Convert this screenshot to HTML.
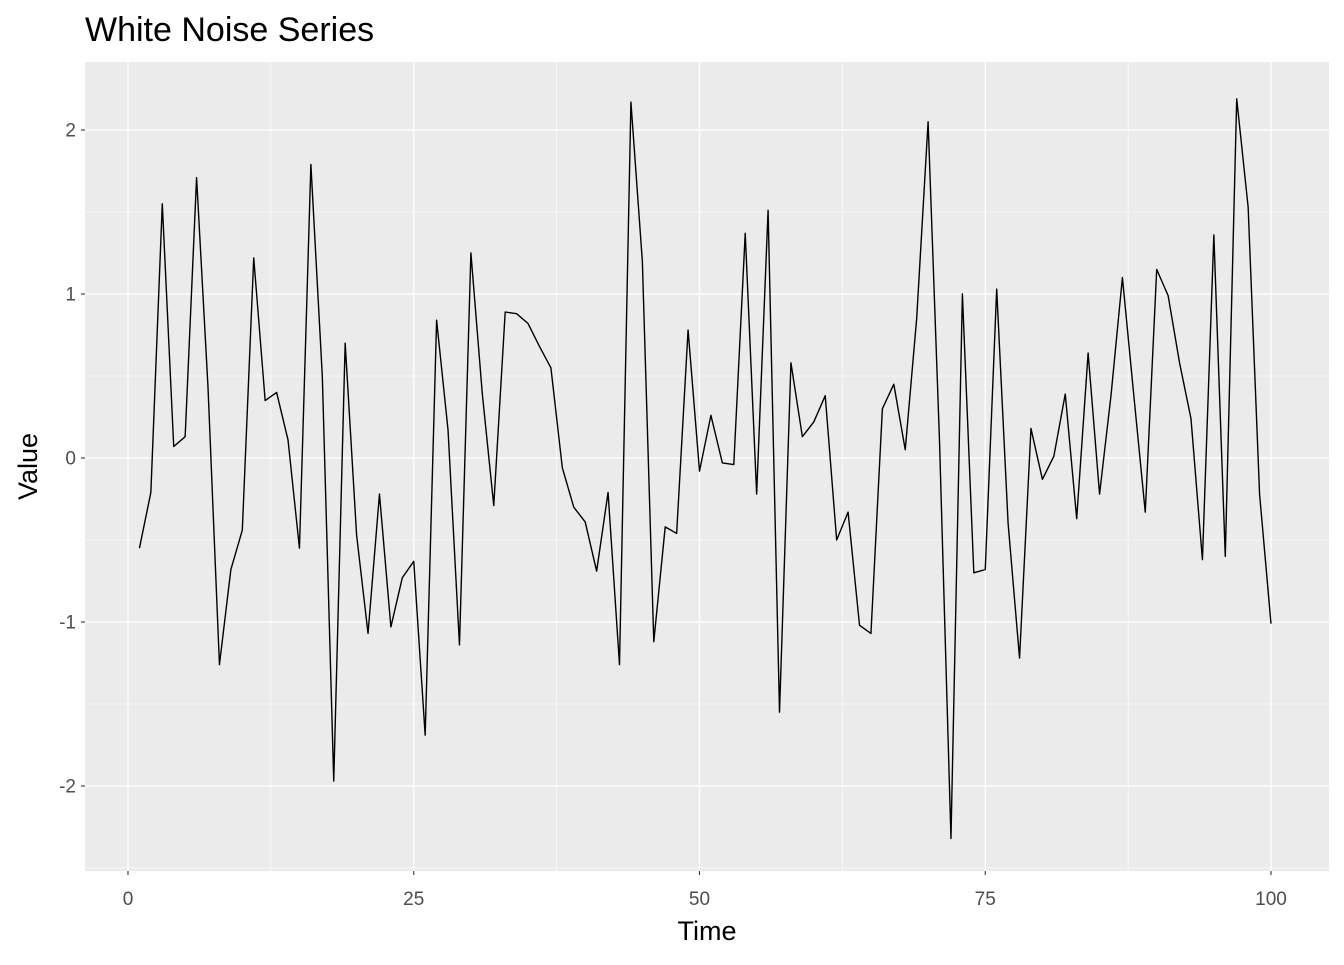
<!DOCTYPE html>
<html><head><meta charset="utf-8"><style>
body{margin:0;background:#fff;font-family:"Liberation Sans",sans-serif}
</style></head><body>
<svg id="chart" width="1344" height="960" xmlns="http://www.w3.org/2000/svg" font-family="Liberation Sans, sans-serif"></svg>
<script>
const xTicks=[0,25,50,75,100];
const yTicks=[-2,-1,0,1,2];
const values=[-0.55,-0.21,1.55,0.07,0.13,1.71,0.43,-1.26,-0.68,-0.44,1.22,0.35,0.40,0.11,-0.55,1.79,0.50,-1.97,0.70,-0.47,-1.07,-0.22,-1.03,-0.73,-0.63,-1.69,0.84,0.17,-1.14,1.25,0.39,-0.29,0.89,0.88,0.82,0.68,0.55,-0.06,-0.30,-0.39,-0.69,-0.21,-1.26,2.17,1.20,-1.12,-0.42,-0.46,0.78,-0.08,0.26,-0.03,-0.04,1.37,-0.22,1.51,-1.55,0.58,0.13,0.22,0.38,-0.50,-0.33,-1.02,-1.07,0.30,0.45,0.05,0.85,2.05,0.10,-2.32,1.00,-0.70,-0.68,1.03,-0.40,-1.22,0.18,-0.13,0.01,0.39,-0.37,0.64,-0.22,0.38,1.10,0.38,-0.33,1.15,0.99,0.58,0.24,-0.62,1.36,-0.60,2.19,1.53,-0.22,-1.01];
const NS="http://www.w3.org/2000/svg";
const svg=document.getElementById('chart');
const P={l:85,r:1329,t:62,b:871};
const sx=v=>128+(v/100)*1143;
const sy=v=>458-v*164;
function mk(tag,a){const e=document.createElementNS(NS,tag);for(const k in a)e.setAttribute(k,a[k]);svg.appendChild(e);return e;}
let e;
e=mk('rect',{x:P.l,y:P.t,width:P.r-P.l,height:P.b-P.t,fill:'#ebebeb'});


for(let i=0;i<xTicks.length-1;i++){const m=(xTicks[i]+xTicks[i+1])/2;
e=mk('line',{x1:sx(m),x2:sx(m),y1:P.t,y2:P.b,stroke:'#fff','stroke-width':0.6});

}
for(let i=0;i<yTicks.length;i++){const m=yTicks[i]-0.5;const y=sy(m);if(y>P.t&&y<P.b){
e=mk('line',{x1:P.l,x2:P.r,y1:y,y2:y,stroke:'#fff','stroke-width':0.6});

}}
{const y=sy(yTicks[yTicks.length-1]+0.5);e=mk('line',{x1:P.l,x2:P.r,y1:y,y2:y,stroke:'#fff','stroke-width':0.6});

}
xTicks.forEach(t=>{const x=sx(t);
e=mk('line',{x1:x,x2:x,y1:P.t,y2:P.b,stroke:'#fff','stroke-width':1.3});


e=mk('line',{x1:x,x2:x,y1:P.b,y2:P.b+4,stroke:'#333','stroke-width':1.1});


e=mk('text',{x:x,y:905,'text-anchor':'middle','font-size':19,fill:'#4d4d4d'});e.textContent=t;

});
yTicks.forEach(t=>{const y=sy(t);
e=mk('line',{x1:P.l,x2:P.r,y1:y,y2:y,stroke:'#fff','stroke-width':1.3});


e=mk('line',{x1:P.l-4,x2:P.l,y1:y,y2:y,stroke:'#333','stroke-width':1.1});


e=mk('text',{x:P.l-9,y:y+6.5,'text-anchor':'end','font-size':19,fill:'#4d4d4d'});e.textContent=t;

});
e=mk('polyline',{points:values.map((v,i)=>sx(i+1)+','+sy(v)).join(' '),fill:'none',stroke:'#000','stroke-width':1.4,'stroke-linejoin':'round'});


e=mk('text',{x:85,y:41,'font-size':34,fill:'#000'});e.textContent='White Noise Series';


e=mk('text',{x:(P.l+P.r)/2,y:940,'text-anchor':'middle','font-size':27,fill:'#000'});e.textContent='Time';


e=mk('text',{x:37,y:(P.t+P.b)/2,'text-anchor':'middle','font-size':27,fill:'#000',transform:'rotate(-90 37 '+((P.t+P.b)/2)+')'});e.textContent='Value';


</script>
</body></html>
